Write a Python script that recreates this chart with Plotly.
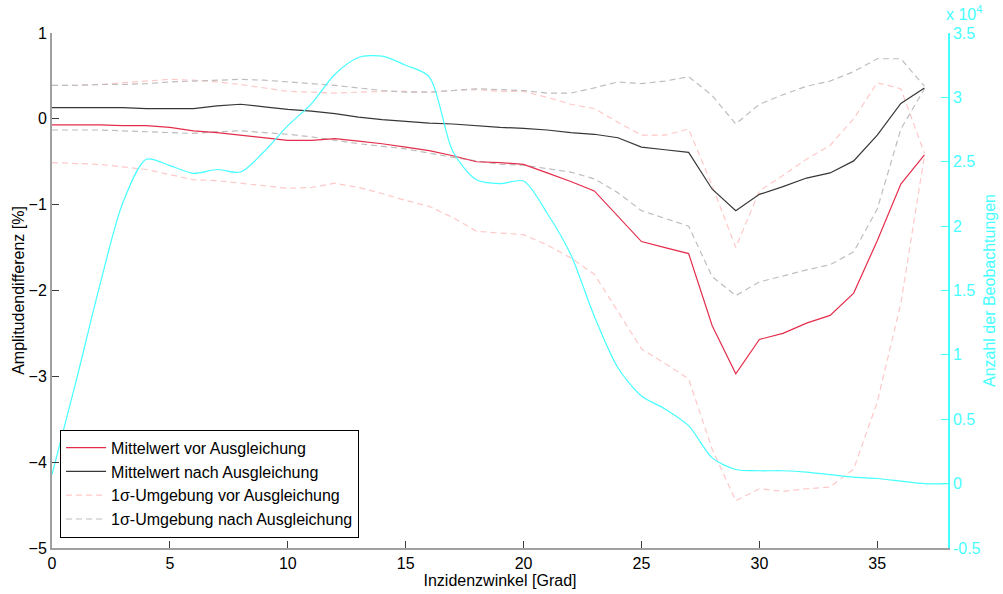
import plotly.graph_objects as go

# ---- data ----
winkel = list(range(0, 38))  # Inzidenzwinkel [Grad]

mittel_vor = [-0.07, -0.07, -0.07, -0.08, -0.08, -0.10, -0.14, -0.16, -0.19, -0.22,
              -0.25, -0.25, -0.23, -0.26, -0.29, -0.33, -0.37, -0.43, -0.50, -0.51,
              -0.53, -0.63, -0.73, -0.84, -1.14, -1.43, -1.50, -1.57, -2.41, -2.97,
              -2.57, -2.50, -2.38, -2.29, -2.03, -1.42, -0.76, -0.42]

mittel_nach = [0.13, 0.13, 0.13, 0.13, 0.12, 0.12, 0.12, 0.15, 0.17, 0.14,
               0.11, 0.09, 0.06, 0.02, -0.01, -0.03, -0.05, -0.06, -0.08, -0.10,
               -0.11, -0.13, -0.16, -0.18, -0.22, -0.33, -0.36, -0.39, -0.82, -1.07,
               -0.88, -0.79, -0.69, -0.63, -0.49, -0.19, 0.18, 0.36]

sigma_vor_oben = [0.39, 0.39, 0.40, 0.42, 0.44, 0.46, 0.45, 0.43, 0.40, 0.36,
                  0.32, 0.31, 0.30, 0.31, 0.32, 0.32, 0.31, 0.33, 0.34, 0.32,
                  0.32, 0.25, 0.17, 0.12, -0.04, -0.19, -0.19, -0.12, -0.78, -1.50,
                  -0.84, -0.66, -0.47, -0.31, 0.00, 0.42, 0.35, -0.40]

sigma_vor_unten = [-0.51, -0.52, -0.53, -0.56, -0.59, -0.65, -0.71, -0.72, -0.75, -0.78,
                   -0.81, -0.80, -0.75, -0.80, -0.87, -0.95, -1.02, -1.15, -1.31, -1.33,
                   -1.35, -1.47, -1.62, -1.81, -2.25, -2.68, -2.85, -3.03, -3.85, -4.45,
                   -4.31, -4.34, -4.31, -4.29, -4.08, -3.30, -2.15, -0.43]

sigma_nach_oben = [0.39, 0.39, 0.40, 0.40, 0.41, 0.43, 0.44, 0.45, 0.46, 0.45,
                   0.43, 0.41, 0.39, 0.36, 0.33, 0.31, 0.31, 0.33, 0.35, 0.34,
                   0.33, 0.30, 0.30, 0.36, 0.43, 0.41, 0.44, 0.49, 0.27, -0.06,
                   0.17, 0.28, 0.38, 0.44, 0.55, 0.70, 0.70, 0.38]

sigma_nach_unten = [-0.13, -0.13, -0.13, -0.14, -0.15, -0.16, -0.17, -0.15, -0.14, -0.16,
                    -0.18, -0.21, -0.25, -0.29, -0.32, -0.35, -0.40, -0.45, -0.49, -0.53,
                    -0.54, -0.58, -0.62, -0.70, -0.86, -1.07, -1.16, -1.25, -1.84, -2.06,
                    -1.90, -1.83, -1.76, -1.70, -1.55, -1.05, -0.12, 0.35]

anzahl_winkel = list(range(0, 39))
anzahl = [700, 7800, 15200, 21800, 25200, 24700, 24100, 24400, 24200, 25800,
          27800, 29500, 31800, 33100, 33200, 32500, 31600, 25800, 23600, 23300,
          23500, 21000, 17800, 13000, 9000, 6800, 5800, 4500, 2000, 1100,
          1000, 1000, 900, 700, 500, 400, 200, 0, 0]

left_ticks = [-5, -4, -3, -2, -1, 0, 1]
right_tickvals = [-5000, 0, 5000, 10000, 15000, 20000, 25000, 30000, 35000]
right_ticktext = ["-0.5", "0", "0.5", "1", "1.5", "2", "2.5", "3", "3.5"]
x_ticks = [0, 5, 10, 15, 20, 25, 30, 35]

# ---- styles ----
RED = "rgb(228,45,75)"
BLACK = "rgb(55,55,55)"
PINK = "rgb(255,200,200)"
GRAY = "rgb(190,190,190)"
CYAN = "rgb(70,255,255)"
FONT = "Liberation Sans, Arial, sans-serif"
FS = 16
DASH = "6px,4px"

fig = go.Figure()

fig.add_trace(go.Scatter(x=anzahl_winkel, y=anzahl, yaxis="y2", mode="lines",
                         line=dict(color=CYAN, width=1.2, shape="spline", smoothing=0.8),
                         showlegend=False, name="Anzahl"))

fig.add_trace(go.Scatter(x=winkel, y=sigma_vor_oben, mode="lines",
                         line=dict(color=PINK, width=1.2, dash=DASH),
                         name="1σ-Umgebung vor Ausgleichung", legendrank=3))
fig.add_trace(go.Scatter(x=winkel, y=sigma_vor_unten, mode="lines",
                         line=dict(color=PINK, width=1.2, dash=DASH),
                         showlegend=False, name="1σ-Umgebung vor Ausgleichung"))
fig.add_trace(go.Scatter(x=winkel, y=sigma_nach_oben, mode="lines",
                         line=dict(color=GRAY, width=1.2, dash=DASH),
                         name="1σ-Umgebung nach Ausgleichung", legendrank=4))
fig.add_trace(go.Scatter(x=winkel, y=sigma_nach_unten, mode="lines",
                         line=dict(color=GRAY, width=1.2, dash=DASH),
                         showlegend=False, name="1σ-Umgebung nach Ausgleichung"))
fig.add_trace(go.Scatter(x=winkel, y=mittel_vor, mode="lines",
                         line=dict(color=RED, width=1.2),
                         name="Mittelwert vor Ausgleichung", legendrank=1))
fig.add_trace(go.Scatter(x=winkel, y=mittel_nach, mode="lines",
                         line=dict(color=BLACK, width=1.2),
                         name="Mittelwert nach Ausgleichung", legendrank=2))

fig.update_layout(
    width=1003, height=594,
    margin=dict(l=52, r=55, t=33, b=46),
    paper_bgcolor="white", plot_bgcolor="white",
    font=dict(family=FONT, size=FS, color="black"),
    xaxis=dict(range=[0, 38], tickvals=x_ticks, ticks="inside", ticklen=7,
               tickcolor="rgb(60,60,60)", showline=True, linecolor="rgb(160,160,160)",
               linewidth=2, showgrid=False, zeroline=False, automargin=False,
               title=dict(text="Inzidenzwinkel [Grad]", standoff=4,
                          font=dict(size=FS))),
    yaxis=dict(range=[-5, 1], tickvals=left_ticks, ticks="inside", ticklen=7,
               tickcolor="rgb(60,60,60)", showline=True, linecolor="rgb(160,160,160)",
               linewidth=2, showgrid=False, zeroline=False, automargin=False,
               title=dict(text="Amplitudendifferenz [%]", standoff=0,
                          font=dict(size=FS))),
    yaxis2=dict(range=[-5000, 35000], tickvals=right_tickvals, ticktext=right_ticktext,
                overlaying="y", side="right", anchor="x", ticks="inside", ticklen=7,
                tickcolor=CYAN, showline=True, linecolor=CYAN, linewidth=1.5,
                tickfont=dict(color=CYAN), showgrid=False, zeroline=False,
                automargin=False,
                title=dict(text="Anzahl der Beobachtungen", standoff=4,
                           font=dict(color=CYAN, size=FS))),
    legend=dict(x=0.009, y=0.02, xanchor="left", yanchor="bottom",
                bgcolor="white", bordercolor="black", borderwidth=1,
                font=dict(size=FS), tracegroupgap=0, itemwidth=40),
    annotations=[dict(text="x 10<sup>4</sup>", xref="paper", yref="paper",
                      x=1.0, y=1.0, xanchor="left", yanchor="bottom",
                      xshift=-4, yshift=8,
                      showarrow=False, font=dict(color=CYAN, size=FS))],
)

fig.write_html("out.html")
